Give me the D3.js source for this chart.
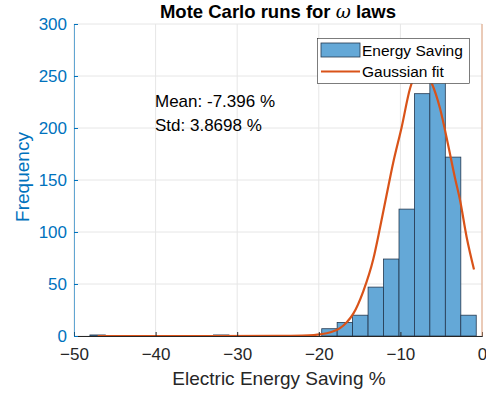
<!DOCTYPE html>
<html><head><meta charset="utf-8">
<script src="https://cdn.jsdelivr.net/npm/d3@7"></script>
<style>body{margin:0;background:#fff}svg{display:block;font-family:Arial,"Liberation Sans",sans-serif}</style>
</head><body><svg id="c" width="486" height="396"></svg>
<script>
// Histogram bins (left edge, count)
const binLefts = [-48.05, -32.90, -19.64, -17.75, -15.86, -13.96, -12.07, -10.17, -8.28, -6.39, -4.49, -2.60];
const binCounts = [1, 1, 7, 13, 20, 47, 74, 122, 233, 262, 172, 20];
const binWidth = 1.894;
// Gaussian fit curve
const fitX = [-47.1, -35, -25, -22, -20.6, -19.85, -19.03, -18.2, -17.4, -16.6, -15.77, -14.55, -13.32, -12.5, -11.68, -10.87, -9.84, -8.82, -7.4, -6.16, -5.15, -4.13, -3.31, -2.70, -1.88, -0.98];
const fitY = [0, 0, 0.1, 0.4, 0.9, 1.5, 2.6, 4.5, 7.6, 13, 21.5, 43, 74, 104, 136, 167, 201, 238, 257, 243, 219, 183, 152, 131, 95, 64];
const xTicks = [-50, -40, -30, -20, -10, 0];
const yTicks = [0, 50, 100, 150, 200, 250, 300];
const legendLabels = ["Energy Saving", "Gaussian fit"];

const svg = d3.select("#c");
const L = 74, R = 482, T = 24, B = 336;
const x = d3.scaleLinear().domain([-50, 0]).range([L, R]);
const y = d3.scaleLinear().domain([0, 300]).range([B, T]);
const blue = "#0072BD", orange = "#D95319";

// grid
svg.append("g").selectAll("line").data(xTicks).join("line")
  .attr("x1", d => x(d)).attr("x2", d => x(d)).attr("y1", T).attr("y2", B)
  .attr("stroke", "#e6e6e6").attr("stroke-width", 1);
svg.append("g").selectAll("line").data(yTicks).join("line")
  .attr("x1", L).attr("x2", R).attr("y1", d => y(d)).attr("y2", d => y(d))
  .attr("stroke", "#e6e6e6").attr("stroke-width", 1);

// bars
svg.append("g").selectAll("rect").data(binLefts.map((b, i) => ({x0: b, c: binCounts[i]}))).join("rect")
  .attr("x", d => x(d.x0)).attr("width", d => x(d.x0 + binWidth) - x(d.x0))
  .attr("y", d => y(d.c)).attr("height", d => y(0) - y(d.c))
  .attr("fill", "#64a8d7").attr("stroke", "#24384f").attr("stroke-width", 0.8);

// fit curve
const pts = fitX.map((v, i) => [v, fitY[i]]);
svg.append("path").datum(pts)
  .attr("d", d3.line().x(d => x(d[0])).y(d => y(d[1])).curve(d3.curveMonotoneX))
  .attr("fill", "none").attr("stroke", orange).attr("stroke-width", 2.2);

// axes
const xa = svg.append("g").attr("transform", `translate(0,${B})`)
  .call(d3.axisBottom(x).tickValues(xTicks).tickSize(-4).tickPadding(12).tickFormat(d3.format("d")));
xa.select(".domain").attr("stroke", "#262626");
xa.selectAll(".tick line").attr("stroke", "#262626");
xa.selectAll("text").attr("fill", "#262626").attr("font-size", 17).attr("font-family", "Arial,'Liberation Sans',sans-serif");

const ya = svg.append("g").attr("transform", `translate(${L},0)`)
  .call(d3.axisLeft(y).tickValues(yTicks).tickSize(-4).tickPadding(7));
ya.select(".domain").attr("stroke", blue).attr("stroke-opacity", 0.6);
ya.selectAll(".tick line").attr("stroke", blue);
ya.selectAll("text").attr("fill", blue).attr("font-size", 17).attr("font-family", "Arial,'Liberation Sans',sans-serif");

// right axis line
svg.append("line").attr("x1", R).attr("x2", R).attr("y1", T).attr("y2", B)
  .attr("stroke", "#e2a27c").attr("stroke-width", 1);

// labels
svg.append("text").attr("x", 279).attr("y", 385).attr("text-anchor", "middle")
  .attr("font-size", 19).attr("fill", "#262626").text("Electric Energy Saving %");
svg.append("text").attr("transform", "translate(29,177) rotate(-90)").attr("text-anchor", "middle")
  .attr("font-size", 19).attr("fill", blue).text("Frequency");
const title = svg.append("text").attr("x", 278).attr("y", 18).attr("text-anchor", "middle")
  .attr("font-size", 18.5).attr("font-weight", "bold").attr("fill", "#000");
title.append("tspan").text("Mote Carlo runs for ");
title.append("tspan").attr("font-style", "italic").attr("font-family", "'DejaVu Serif',serif").attr("font-weight", "normal").text("ω");
title.append("tspan").text(" laws");

svg.append("text").attr("x", 155).attr("y", 107).attr("font-size", 17).attr("fill", "#000").text("Mean: -7.396 %");
svg.append("text").attr("x", 155).attr("y", 131).attr("font-size", 17).attr("fill", "#000").text("Std: 3.8698 %");

// legend
const lg = svg.append("g");
lg.append("rect").attr("x", 317.5).attr("y", 38.5).attr("width", 152).attr("height", 45)
  .attr("fill", "#fff").attr("stroke", "#262626").attr("stroke-width", 0.6);
lg.append("rect").attr("x", 321).attr("y", 43).attr("width", 39).attr("height", 14)
  .attr("fill", "#64a8d7").attr("stroke", "#24384f").attr("stroke-width", 0.8);
lg.append("line").attr("x1", 321).attr("x2", 360).attr("y1", 71.5).attr("y2", 71.5)
  .attr("stroke", orange).attr("stroke-width", 2.2);
lg.selectAll("text").data(legendLabels).join("text")
  .attr("x", 362).attr("y", (d, i) => 55.5 + i * 21).attr("font-size", 15.5).attr("fill", "#000").text(d => d);
</script></body></html>
